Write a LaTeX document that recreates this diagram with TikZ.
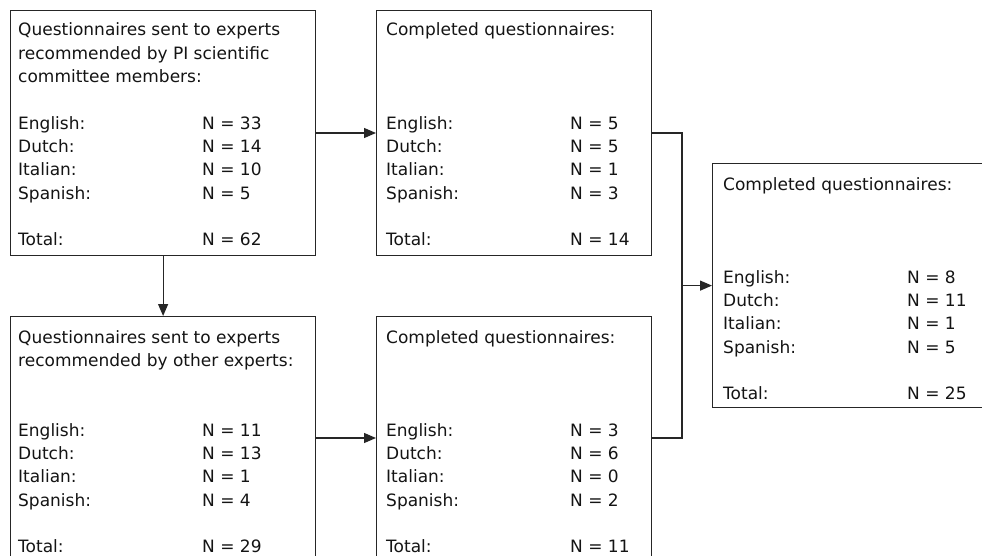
\documentclass[tikz,border=0pt]{standalone}
\usepackage{fontspec}
\setmainfont{DejaVu Sans}
\usetikzlibrary{arrows.meta}

\definecolor{linegray}{HTML}{262626}
\definecolor{textgray}{HTML}{141414}

% one language row: label column, then the count
\newcommand\langrow[2]{\makebox[184pt][l]{#1}#2\par}
\newcommand\blankrow{\mbox{}\par}

\tikzset{
  box/.style={draw=linegray, line width=1.2pt, anchor=north west, inner sep=0pt},
  txt/.style={anchor=base west, inner sep=0pt, text=textgray,
              font=\fontsize{17}{23.3}\selectfont},
  arr/.style={draw=linegray, line width=1.2pt,
              -{Triangle[length=12pt,width=10pt]}},
  link/.style={draw=linegray, line width=1.2pt},
}

\begin{document}
\begin{tikzpicture}[x=1pt, y=-1pt]
\useasboundingbox (0,0) rectangle (982,556);
\clip (0,0) rectangle (982,556);
\fill[white] (0,0) rectangle (982,556);

% boxes (the lower ones and the right one run past the page edge)
\node[box, minimum width=305pt, minimum height=245pt] (a) at (10,10) {};
\node[box, minimum width=275pt, minimum height=245pt] (b) at (376,10) {};
\node[box, minimum width=305pt, minimum height=260pt] (c) at (10,316) {};
\node[box, minimum width=275pt, minimum height=260pt] (d) at (376,316) {};
\node[box, minimum width=300pt, minimum height=244pt] (e) at (712,163) {};

% box contents
\node[txt] (a-t) at (18,36) {\parbox[t]{295pt}{%
  Questionnaires sent to experts\par
  recommended by PI scientific\par
  committee members:\par
  \blankrow
  \langrow{English:}{N = 33}
  \langrow{Dutch:}{N = 14}
  \langrow{Italian:}{N = 10}
  \langrow{Spanish:}{N = 5}
  \blankrow
  \langrow{Total:}{N = 62}}};

\node[txt] (b-t) at (386,36) {\parbox[t]{265pt}{%
  Completed questionnaires:\par
  \blankrow\blankrow\blankrow
  \langrow{English:}{N = 5}
  \langrow{Dutch:}{N = 5}
  \langrow{Italian:}{N = 1}
  \langrow{Spanish:}{N = 3}
  \blankrow
  \langrow{Total:}{N = 14}}};

\node[txt] (c-t) at (18,343) {\parbox[t]{295pt}{%
  Questionnaires sent to experts\par
  recommended by other experts:\par
  \blankrow\blankrow
  \langrow{English:}{N = 11}
  \langrow{Dutch:}{N = 13}
  \langrow{Italian:}{N = 1}
  \langrow{Spanish:}{N = 4}
  \blankrow
  \langrow{Total:}{N = 29}}};

\node[txt] (d-t) at (386,343) {\parbox[t]{265pt}{%
  Completed questionnaires:\par
  \blankrow\blankrow\blankrow
  \langrow{English:}{N = 3}
  \langrow{Dutch:}{N = 6}
  \langrow{Italian:}{N = 0}
  \langrow{Spanish:}{N = 2}
  \blankrow
  \langrow{Total:}{N = 11}}};

\node[txt] (e-t) at (723,190) {\parbox[t]{255pt}{%
  Completed questionnaires:\par
  \blankrow\blankrow\blankrow
  \langrow{English:}{N = 8}
  \langrow{Dutch:}{N = 11}
  \langrow{Italian:}{N = 1}
  \langrow{Spanish:}{N = 5}
  \blankrow
  \langrow{Total:}{N = 25}}};

% connector levels
\coordinate (r1) at (0,133);
\coordinate (r2) at (0,438);
\coordinate (jx) at (682,0);

\draw[arr] (a.east |- r1) -- (b.west |- r1);
\draw[arr] (c.east |- r2) -- (d.west |- r2);
\draw[arr] (a.south) -- (c.north);
\draw[link] (b.east |- r1) -| (jx |- r2) -- (d.east |- r2);
\draw[arr] (jx |- e.west) -- (e.west);
\end{tikzpicture}
\end{document}
